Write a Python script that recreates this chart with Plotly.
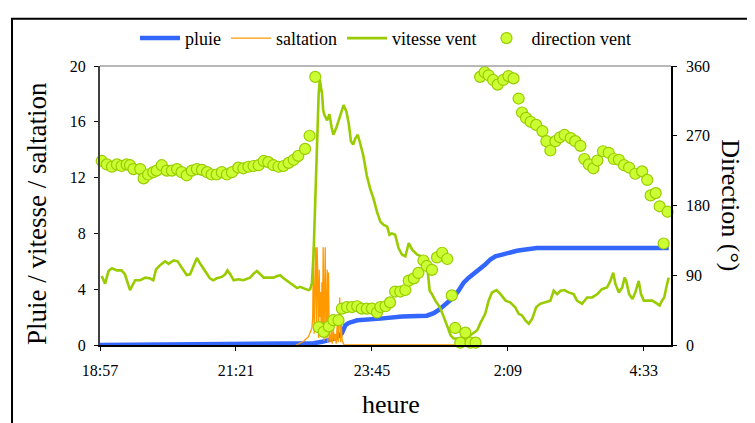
import plotly.graph_objects as go

FONT = "Liberation Serif"

# ---- x axis ticks (clock time, hours; values > 24 are after midnight) ----
tick_hours = [18.96, 21.36, 23.76, 26.16, 28.56]
tick_labels = ["18:57", "21:21", "23:45", "2:09", "4:33"]

# ---- pluie (cumulative rain) ----
rain_time = [18.96, 22.43, 22.73, 22.88, 23.00, 23.12, 23.23, 23.29, 23.35, 23.50, 23.91, 24.29,
             24.73, 24.85, 24.94, 25.03, 25.11, 25.20, 25.29, 25.38, 25.47, 25.59, 25.67, 25.76,
             25.85, 25.94, 26.06, 26.20, 26.32, 26.44, 26.67, 29.00]
rain_mm = [0, 0.05, 0.12, 0.23, 0.35, 0.47, 0.83, 1.41, 1.58, 1.77, 1.89, 2.05,
           2.10, 2.28, 2.52, 2.83, 3.06, 3.41, 3.89, 4.47, 4.83, 5.18, 5.42, 5.77,
           6.13, 6.36, 6.48, 6.66, 6.76, 6.83, 6.95, 6.95]

# ---- saltation ----
salt_time = [22.42, 22.55, 22.64, 22.70,
             22.715, 22.727, 22.741, 22.756, 22.768, 22.782, 22.794, 22.807, 22.819, 22.830,
             22.842, 22.853, 22.865, 22.878, 22.888, 22.900, 22.913, 22.923, 22.936, 22.948,
             22.959, 22.971, 22.983, 22.994, 23.006, 23.024, 23.042, 23.059, 23.077, 23.095,
             23.112, 23.130, 23.148, 23.165, 23.192, 23.206, 23.218, 23.236, 23.254, 23.271,
             25.233]
salt_val = [0, 0.25, 0.6, 1.2,
            2.0, 7.0, 0.8, 5.0, 7.0, 1.5, 7.0, 4.2, 0.5, 5.4,
            2.0, 3.8, 0.8, 4.5, 1.0, 7.0, 0.3, 3.0, 7.0, 0.5,
            1.9, 5.4, 0.2, 5.2, 0.9, 0.2, 1.0, 0.1, 1.3, 0.3,
            0.8, 0.1, 1.6, 0.2, 3.4, 0.2, 1.6, 0.3, 0.1, 0,
            0]

# ---- vitesse vent ----
wind_time = [18.99, 19.05, 19.11, 19.17, 19.26, 19.34, 19.40, 19.46, 19.49, 19.58,
             19.67, 19.76, 19.84, 19.90, 19.95, 20.02, 20.11, 20.17, 20.26, 20.33,
             20.40, 20.49, 20.55, 20.61, 20.67, 20.73, 20.82, 20.90, 20.96, 21.02,
             21.11, 21.17, 21.21, 21.26, 21.32, 21.40, 21.49, 21.55, 21.61, 21.67,
             21.73, 21.79, 21.85, 21.93, 22.02, 22.08, 22.14, 22.20, 22.29, 22.38,
             22.44, 22.49, 22.58, 22.64, 22.67, 22.70, 22.73, 22.76, 22.79, 22.82,
             22.84, 22.86, 22.88, 22.90, 22.92, 22.97, 23.01, 23.05, 23.08, 23.13,
             23.19, 23.23, 23.26, 23.31, 23.35, 23.39, 23.43, 23.47, 23.51, 23.55,
             23.61, 23.67, 23.73, 23.79, 23.85, 23.91, 23.97, 24.03, 24.07, 24.11,
             24.17, 24.23, 24.29, 24.35, 24.41, 24.47, 24.56, 24.64, 24.73, 24.78,
             24.82, 24.88, 24.96, 25.03, 25.09, 25.15, 25.20, 25.29, 25.37, 25.44,
             25.53, 25.62, 25.67, 25.76, 25.82, 25.88, 25.96, 26.03, 26.12, 26.20,
             26.29, 26.35, 26.41, 26.47, 26.53, 26.59, 26.66, 26.73, 26.82, 26.91,
             26.97, 27.03, 27.09, 27.16, 27.23, 27.32, 27.38, 27.47, 27.56, 27.65,
             27.74, 27.82, 27.91, 27.97, 28.02, 28.06, 28.12, 28.18, 28.22, 28.25,
             28.30, 28.36, 28.41, 28.47, 28.51, 28.56, 28.62, 28.71, 28.80, 28.84,
             28.88, 28.92, 28.97, 29.00]
wind_speed = [4.95, 4.4, 5.3, 5.5, 5.35, 5.35, 5.07, 4.24, 3.93, 4.64,
              4.64, 4.83, 4.78, 4.64, 5.42, 5.72, 6.0, 5.82, 6.06, 6.0,
              5.58, 5.02, 5.07, 5.65, 6.24, 5.82, 5.3, 4.78, 4.64, 4.78,
              4.88, 5.07, 5.35, 5.07, 4.64, 4.71, 4.64, 4.71, 4.83, 5.11,
              5.3, 5.07, 4.83, 4.83, 4.83, 4.93, 5.0, 4.78, 4.54, 4.24,
              4.08, 4.17, 4.0, 3.93, 4.0, 4.4, 6.5, 10.5, 14.5, 18.0,
              19.0, 18.5, 18.0, 16.85, 16.5, 16.1, 16.55, 15.55, 15.07, 15.55,
              16.25, 16.85, 17.2, 16.73, 15.9, 14.6, 14.37, 14.84, 15.07, 14.5,
              13.55, 12.13, 11.19, 10.48, 9.54, 8.83, 8.6, 8.48, 7.9, 8.0,
              7.9, 6.95, 6.48, 6.36, 7.3, 6.83, 6.48, 6.36, 5.89, 3.89,
              3.65, 3.18, 2.7, 2.0, 1.29, 0.7, 0.47, 0.47, 0.47, 0.54,
              0.8, 1.06, 1.53, 2.24, 3.18, 3.77, 3.94, 3.65, 3.18, 3.06,
              2.71, 2.24, 2.12, 1.77, 1.53, 1.89, 2.71, 2.95, 3.06, 3.18,
              3.89, 3.65, 3.89, 3.94, 3.77, 3.65, 3.18, 2.95, 3.41, 3.41,
              3.65, 4.0, 4.12, 4.59, 5.18, 4.36, 3.77, 4.12, 4.83, 4.59,
              3.65, 3.3, 3.77, 4.59, 3.65, 3.18, 3.18, 3.18, 2.95, 2.83,
              3.18, 3.41, 4.36, 4.83]

# ---- direction vent (degrees) ----
dir_time = [18.99, 19.08, 19.17, 19.26, 19.34, 19.43, 19.49, 19.55, 19.67, 19.73,
            19.81, 19.90, 19.96, 20.05, 20.14, 20.23, 20.32, 20.40, 20.49, 20.58,
            20.67, 20.76, 20.85, 20.93, 21.02, 21.11, 21.20, 21.29, 21.40, 21.49,
            21.58, 21.67, 21.76, 21.85, 21.93, 22.02, 22.11, 22.20, 22.29, 22.38,
            22.46, 22.58, 22.66, 22.76, 22.82, 22.91, 23.00, 23.08, 23.17, 23.23,
            23.32, 23.41, 23.50, 23.58, 23.67, 23.76, 23.85, 23.91, 24.00, 24.08,
            24.17, 24.26, 24.35, 24.41, 24.50, 24.58, 24.67, 24.73, 24.82, 24.91,
            25.00, 25.09, 25.17, 25.23, 25.32, 25.41, 25.50, 25.59, 25.67, 25.75,
            25.82, 25.90, 25.98, 26.08, 26.17, 26.26, 26.35, 26.41, 26.48, 26.56,
            26.66, 26.77, 26.84, 26.91, 27.00, 27.08, 27.16, 27.27, 27.35, 27.44,
            27.51, 27.59, 27.67, 27.74, 27.84, 27.94, 28.03, 28.12, 28.21, 28.30,
            28.41, 28.53, 28.62, 28.68, 28.77, 28.84, 28.91, 28.98]
dir_deg = [237.5, 233, 230, 233, 231, 233, 232, 227, 227, 215,
           220, 223, 225, 232, 225, 225, 227, 223, 219, 225,
           227, 226, 223, 220, 220, 223, 220, 223, 229, 228,
           230, 231, 232, 237.5, 236, 232, 230, 231, 235, 239,
           244, 253, 270, 346, 23, 17, 24, 32, 32, 47,
           49, 49, 50, 47, 47, 47, 42, 49, 50, 55,
           69, 69, 71, 83, 86, 93, 109, 102, 97, 113,
           119, 111, 64, 22, 3, 16, 3, 3, 346, 352,
           348, 342, 336, 342, 347, 344, 318, 300, 293, 288,
           284, 276, 263, 251, 263, 268, 271, 267, 263, 257,
           240, 233, 228, 238, 250, 248, 240, 239, 232, 229,
           221, 224, 213, 193, 196, 179, 131, 172]

fig = go.Figure()
fig.add_trace(go.Scatter(x=rain_time, y=rain_mm, name="pluie", mode="lines",
                         line=dict(color="#3366ff", width=4.5)))
fig.add_trace(go.Scatter(x=salt_time, y=salt_val, name="saltation", mode="lines",
                         line=dict(color="#ff9900", width=1.3)))
fig.add_trace(go.Scatter(x=wind_time, y=wind_speed, name="vitesse vent", mode="lines",
                         line=dict(color="#99cc00", width=2.6)))
fig.add_trace(go.Scatter(x=dir_time, y=dir_deg, name="direction vent", mode="markers",
                         yaxis="y2", cliponaxis=False,
                         marker=dict(symbol="circle", size=11, color="#ccff33",
                                     line=dict(color="#99cc00", width=1.2))))

axis_common = dict(showgrid=False, zeroline=False, showline=True, ticks="outside",
                   ticklen=4, tickwidth=1, tickcolor="#000000",
                   tickfont=dict(family=FONT, size=16, color="#000000"))

# the page body has an 8px margin, so the figure is 8px smaller than the window
fig.update_layout(
    width=747, height=415,
    margin=dict(l=92, r=84, t=54, b=78),
    paper_bgcolor="white", plot_bgcolor="white",
    font=dict(family=FONT, color="#000000"),
    showlegend=True,
    legend=dict(orientation="h", x=0.5, xanchor="center", y=1.099, yanchor="middle",
                font=dict(family=FONT, size=18, color="#000000"),
                bgcolor="rgba(0,0,0,0)", itemwidth=40, tracegroupgap=0),
    xaxis=dict(range=[18.96, 29.04], tickvals=tick_hours, ticktext=tick_labels,
               linecolor="#000000", linewidth=1.5, ticklabelstandoff=6, **axis_common),
    yaxis=dict(range=[0, 20], tickvals=[0, 4, 8, 12, 16, 20],
               linecolor="#404040", linewidth=2, ticklabelstandoff=5, **axis_common),
    yaxis2=dict(range=[0, 360], tickvals=[0, 90, 180, 270, 360], overlaying="y", side="right",
                linecolor="#000000", linewidth=1.5, ticklabelstandoff=6, **axis_common),
    shapes=[
        dict(type="line", xref="paper", yref="paper", x0=0, x1=1, y0=1, y1=1,
             line=dict(color="#a0a0a0", width=1.5)),
        dict(type="rect", xref="paper", yref="paper", x0=-0.1541, x1=1.156, y0=-0.30, y1=1.1696,
             line=dict(color="#000000", width=2)),
    ],
    annotations=[
        dict(text="Pluie / vitesse / saltation", xref="paper", yref="paper", x=-0.110, y=0.47,
             xanchor="center", yanchor="middle", textangle=-90, showarrow=False,
             font=dict(family=FONT, size=27, color="#000000")),
        dict(text="Direction (°)", xref="paper", yref="paper", x=1.103, y=0.502,
             xanchor="center", yanchor="middle", textangle=90, showarrow=False,
             font=dict(family=FONT, size=26, color="#000000")),
        dict(text="heure", xref="paper", yref="paper", x=0.51, y=-0.212,
             xanchor="center", yanchor="middle", showarrow=False,
             font=dict(family=FONT, size=26, color="#000000")),
    ],
)

fig.write_html("out.html")
